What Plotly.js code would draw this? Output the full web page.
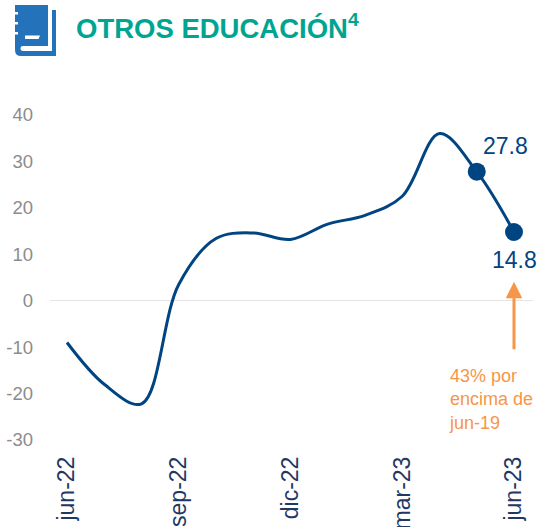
<!DOCTYPE html>
<html><head><meta charset="utf-8">
<script src="https://cdn.plot.ly/plotly-3.0.1.min.js"></script>
<style>html,body{margin:0;padding:0;background:#fff;overflow:hidden}#c{width:539px;height:527px;position:relative}
#icon{position:absolute;left:14px;top:5px;z-index:5}</style></head>
<body><div id="c"><svg id="icon" width="44" height="52" viewBox="0 0 44 52">
<path d="M1 1H33V40H8Q6 40 6 43V45H1Z" fill="#2473BA"/>
<path d="M0 0H34V41H9Q6.5 41 6.5 43Q6.5 46 9 46H38V5H42V51H7Q1 51 1 45V0Z" fill="#2473BA"/>
<path d="M11 30.500H26L24.500 34H11Z" fill="#fff"/>
<g fill="#fff"><rect x="0" y="7" width="4" height="2.500"/><rect x="0" y="17" width="4" height="2.500"/><rect x="0" y="27" width="4" height="2.500"/></g>
</svg></div>
<script>
const months = ['jun-22','jul-22','ago-22','sep-22','oct-22','nov-22','dic-22','ene-23','feb-23','mar-23','abr-23','may-23','jun-23'];
const values = [-9,-18,-22.2,3.5,13.4,14.6,13.2,16.5,18.4,22.5,36,27.8,14.8];
const tickLabels = ['jun-22','sep-22','dic-22','mar-23','jun-23'];
const yTicks = [-30,-20,-10,0,10,20,30,40];
const highlightMonths = ['may-23','jun-23'];
const highlightValues = [27.8,14.8];
const navy = '#004481', orange = '#F79646', font = 'Liberation Sans, Arial, sans-serif';
Plotly.newPlot('c',[
 {x:months,y:values,type:'scatter',mode:'lines',line:{color:navy,width:3,shape:'spline',smoothing:1},hoverinfo:'skip'},
 {x:highlightMonths,y:highlightValues,type:'scatter',mode:'markers',marker:{color:navy,size:18},hoverinfo:'skip'}
],{
 width:539,height:527,showlegend:false,paper_bgcolor:'#fff',plot_bgcolor:'#fff',
 margin:{l:50,r:6,t:115,b:87,pad:0},
 title:{text:'<b>OTROS EDUCACIÓN<sup>4</sup></b>',font:{family:font,size:27.500,color:'#00A591'},x:76/539,xanchor:'left',y:1-28/527,yanchor:'middle'},
 xaxis:{type:'category',categoryorder:'array',categoryarray:months,range:[-0.456,12.51],tickmode:'array',
  tickvals:tickLabels,ticktext:tickLabels,tickangle:-90,showgrid:false,zeroline:false,showline:false,ticks:'',ticklabelstandoff:11,
  tickfont:{family:font,size:23,color:'#1F3864'},automargin:false},
 yaxis:{range:[-30,40],tickmode:'array',tickvals:yTicks,ticktext:yTicks.map(String),showgrid:false,zeroline:true,zerolinecolor:'#E4E4E4',zerolinewidth:1.500,
  showline:false,ticks:'',ticklabelstandoff:16,tickfont:{family:font,size:18.500,color:'#8C8C8C'},automargin:false},
 annotations:[
  {x:'jun-23',y:27.8,xref:'x',yref:'y',text:'27.8',showarrow:false,font:{family:font,size:23,color:navy},xanchor:'center',yanchor:'middle',yshift:26,xshift:-9},
  {x:'jun-23',y:14.8,xref:'x',yref:'y',text:'14.8',showarrow:false,font:{family:font,size:23,color:navy},xanchor:'center',yanchor:'middle',yshift:-28},
  {x:'jun-23',y:4.1,xref:'x',yref:'y',ax:0,ay:69,axref:'pixel',ayref:'pixel',text:'',showarrow:true,arrowhead:2,arrowsize:1.1,arrowwidth:3,arrowcolor:orange},
  {x:'jun-23',y:-21.3,xref:'x',yref:'y',text:'43% por<br>encima de<br>jun-19',align:'left',showarrow:false,font:{family:font,size:18,color:orange},xanchor:'center',yanchor:'middle',xshift:-23}
 ]
},{displayModeBar:false,staticPlot:true});
</script></body></html>
